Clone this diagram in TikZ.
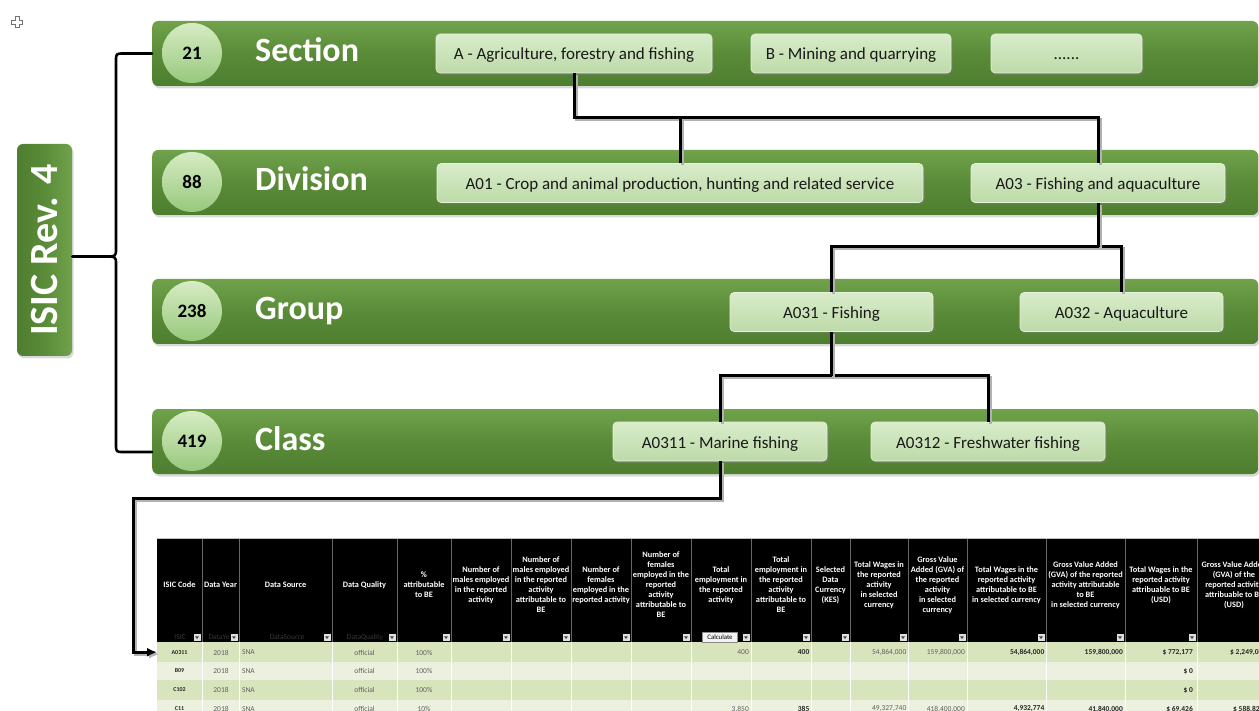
\documentclass[tikz,border=0pt]{standalone}
\usepackage{fontspec}
\setmainfont{Carlito}
\usetikzlibrary{shadows,arrows.meta,calc}
\definecolor{barTop}{HTML}{70A24C}
\definecolor{barMid}{HTML}{5A8B38}
\definecolor{barBot}{HTML}{4E7E2F}
\definecolor{cirTop}{HTML}{D6ECC4}
\definecolor{cirBot}{HTML}{98C87C}
\definecolor{cTop}{HTML}{D8ECCA}
\definecolor{cBot}{HTML}{BDDAA8}
\definecolor{rowA}{HTML}{D8E4BC}
\definecolor{rowB}{HTML}{EBF1DE}
\definecolor{cellTxt}{HTML}{606060}
\begin{document}
\begin{tikzpicture}[x=1pt,y=-1pt,
  bar/.style={rounded corners=6pt, minimum width=1106pt, minimum height=65pt, inner sep=0pt, anchor=west,
    top color=barTop, bottom color=barBot, middle color=barMid,
    drop shadow={opacity=0.3, shadow xshift=1.5pt, shadow yshift=-2.5pt}},
  numcirc/.style={circle, minimum size=60pt, inner sep=0pt, top color=cirTop, bottom color=cirBot,
    font=\fontsize{19}{22}\selectfont\bfseries, text=black},
  lvl/.style={anchor=west, inner sep=0pt, text=white, text height=22pt, text depth=0pt,
    font=\fontsize{34}{40}\selectfont\bfseries},
  cbox/.style={rounded corners=4pt, minimum height=39pt, inner sep=0pt, top color=cTop, bottom color=cBot,
    draw=cTop!70!white, line width=0.6pt, font=\fontsize{17}{20}\selectfont, text=black!90,
    text height=13pt, text depth=0pt,
    drop shadow={opacity=0.45, shadow xshift=1.5pt, shadow yshift=-2pt}},
  conn/.style={line width=3pt, black, line join=miter,
    preaction={draw=black!30, line width=3pt, transform canvas={shift={(2pt,-2pt)}}}},
  brace/.style={line width=2.6pt, black, line join=round, line cap=round},
  hd/.style={inner sep=0pt, align=center, text=white, font=\fontsize{8.3}{10}\selectfont\bfseries},
  faint/.style={inner sep=0pt, text=black!78, font=\fontsize{7.5}{9}\selectfont},
  cell/.style={inner sep=0pt, text=cellTxt, font=\fontsize{7.5}{9}\selectfont},
  cellb/.style={inner sep=0pt, text=black!85, font=\fontsize{7.5}{9}\selectfont\bfseries},
  code/.style={inner sep=0pt, text=black!85, font=\fontsize{6}{7}\selectfont\bfseries},
  rw/.style={anchor=north west, minimum width=1118pt, inner sep=0pt, draw=none}
]
\useasboundingbox (0,0) rectangle (1259,711);
\clip (0,0) rectangle (1259,711);

% move icon
\draw[black!55, line width=0.6pt, fill=white] (15,16.5) -- (19,16.5) -- (19,20) -- (22.5,20) -- (22.5,24) -- (19,24) -- (19,27.5) -- (15,27.5) -- (15,24) -- (11.5,24) -- (11.5,20) -- (15,20) -- cycle;

% level bars
\node[bar] (secbar) at (152,53.5) {};
\node[bar] (divbar) at (152,182.5) {};
\node[bar] (grpbar) at (152,311.5) {};
\node[bar] (clsbar) at (152,441.5) {};

\node[numcirc] (n21) at (192,53) {21};
\node[numcirc] (n88) at (192,182) {88};
\node[numcirc] (n238) at (192,311) {238};
\node[numcirc] (n419) at (192,441) {419};

\node[lvl] (lsec) at (255,51) {Section};
\node[lvl] (ldiv) at (255,180) {Division};
\node[lvl] (lgrp) at (255,309) {Group};
\node[lvl] (lcls) at (255,439) {Class};

% ISIC box
\node[rotate=90, rounded corners=6pt, minimum width=212pt, minimum height=55pt, inner sep=0pt,
  left color=barBot, right color=barTop, middle color=barMid, text=white,
  font=\fontsize{40}{46}\selectfont\bfseries,
  drop shadow={opacity=0.3, shadow xshift=1.5pt, shadow yshift=-2.5pt}] (isic) at (44.5,250) {ISIC Rev. 4};

% brace
\coordinate (tip) at (104,256.5);
\draw[brace] (secbar.west) -- (124,53.5) .. controls (116,53.5) .. (116,61.5) -- (116,248.5) .. controls (116,256.5) .. (tip) -- (isic.south |- tip);
\draw[brace] (tip) .. controls (116,256.5) .. (116,264.5) -- (116,444) .. controls (116,452) .. (124,452) -- (clsbar.west |- 0,452);

% child boxes
\node[cbox, minimum width=276pt] (A) at (574,53.5) {A - Agriculture, forestry and fishing};
\node[cbox, minimum width=200pt] (B) at (851,53.5) {B - Mining and quarrying};
\node[cbox, minimum width=151pt] (dots) at (1066.5,53.5) {......};
\node[cbox, minimum width=486pt] (A01) at (680,183) {A01 - Crop and animal production, hunting and related service};
\node[cbox, minimum width=254pt] (A03) at (1098,183) {A03 - Fishing and aquaculture};
\node[cbox, minimum width=203pt] (A031) at (831.5,312) {A031 - Fishing};
\node[cbox, minimum width=203pt] (A032) at (1121.5,312) {A032 - Aquaculture};
\node[cbox, minimum width=214pt] (A0311) at (720,441.5) {A0311 - Marine fishing};
\node[cbox, minimum width=234pt] (A0312) at (988,441.5) {A0312 - Freshwater fishing};

% table
\node[rw, fill=black, minimum height=103pt] (hdr) at (157,539) {};
\node[rw, fill=rowA, minimum height=20pt] (row1) at (157,642) {};
\node[rw, fill=rowB, minimum height=18pt] (row2) at (157,662) {};
\node[rw, fill=rowA, minimum height=20pt] (row3) at (157,680) {};
\node[rw, fill=rowB, minimum height=20pt] (row4) at (157,700) {};
\draw[black!25, line width=0.6pt] (157,538.7) -- (1259,538.7);

\foreach \c in {202,239,332,397,451,511,571,631,691,751,811,850,908,967,1046,1125,1197}{
  \draw[black!60, line width=0.5pt] (\c,539) -- (\c,642);
  \draw[white, line width=0.7pt] (\c,642) -- (\c,711);
  \fill[black!12] (\c-8.5,634) rectangle (\c-1.5,641);
  \fill[black!75] (\c-7,636.3) -- (\c-3,636.3) -- (\c-5,639) -- cycle;
}

% header texts
\node[hd] (h1) at (179.5,585) {ISIC Code};
\node[hd] (h2) at (220.5,585) {Data Year};
\node[hd] (h3) at (285.5,585) {Data Source};
\node[hd] (h4) at (364.5,585) {Data Quality};
\node[hd] (h5) at (424,585) {\%\\attributable\\to BE};
\node[hd] (h6) at (481,585) {Number of\\males employed\\in the reported\\activity};
\node[hd] (h7) at (541,585) {Number of\\males employed\\in the reported\\activity\\attributable to\\BE};
\node[hd] (h8) at (601,585) {Number of\\females\\employed in the\\reported activity};
\node[hd] (h9) at (661,585) {Number of\\females\\employed in the\\reported\\activity\\attributable to\\BE};
\node[hd] (h10) at (721,585) {Total\\employment in\\the reported\\activity};
\node[hd] (h11) at (781,585) {Total\\employment in\\the reported\\activity\\attributable to\\BE};
\node[hd] (h12) at (830.5,585) {Selected\\Data\\Currency\\(KES)};
\node[hd] (h13) at (879,585) {Total Wages in\\the reported\\activity\\in selected\\currency};
\node[hd] (h14) at (937.5,585) {Gross Value\\Added (GVA) of\\the reported\\activity\\in selected\\currency};
\node[hd] (h15) at (1006.5,585) {Total Wages in the\\reported activity\\attributable to BE\\in selected currency};
\node[hd] (h16) at (1085.5,585) {Gross Value Added\\(GVA) of the reported\\activity attributable\\to BE\\in selected currency};
\node[hd] (h17) at (1161,585) {Total Wages in the\\reported activity\\attribuable to BE\\(USD)};
\node[hd] (h18) at (1234,585) {Gross Value Added\\(GVA) of the\\reported activity\\attribuable to BE\\(USD)};

% faint filter labels
\node[faint] (f1) at (180,637.5) {ISIC};
\node[faint] (f2) at (219,637.5) {DataYe};
\node[faint] (f3) at (287,637.5) {DataSource};
\node[faint] (f4) at (365,637.5) {DataQuality};

% calculate button
\node[draw=black!45, fill=black!5, line width=0.4pt, minimum width=35pt, minimum height=9.5pt, inner sep=0pt,
  font=\fontsize{6.8}{8}\selectfont, text=black] (calc) at (720,637) {Calculate};

% row 1
\node[code] (r1c1) at (179.5,652.5) {A0311};
\node[cell] (r1c2) at (221,652.5) {2018};
\node[cell, anchor=west] (r1c3) at (242,652.5) {SNA};
\node[cell] (r1c4) at (364.5,652.5) {official};
\node[cell] (r1c5) at (424,652.5) {100\%};
\node[cell, anchor=east] (r1c10) at (749,652.5) {400};
\node[cellb, anchor=east] (r1c11) at (809.5,652.5) {400};
\node[cell, anchor=east] (r1c13) at (906.5,652.5) {54,864,000};
\node[cell, anchor=east] (r1c14) at (965,652.5) {159,800,000};
\node[cellb, anchor=east] (r1c15) at (1044.5,652.5) {54,864,000};
\node[cellb, anchor=east] (r1c16) at (1123,652.5) {159,800,000};
\node[cellb, anchor=east] (r1c17) at (1193,652.5) {\$ 772,177};
\node[cellb, anchor=west] (r1c18) at (1230,652.5) {\$ 2,249,081};
% row 2
\node[code] (r2c1) at (179.5,671) {B09};
\node[cell] (r2c2) at (221,671) {2018};
\node[cell, anchor=west] (r2c3) at (242,671) {SNA};
\node[cell] (r2c4) at (364.5,671) {official};
\node[cell] (r2c5) at (424,671) {100\%};
\node[cellb, anchor=east] (r2c17) at (1193,671) {\$ 0};
% row 3
\node[code] (r3c1) at (179.5,690) {C102};
\node[cell] (r3c2) at (221,690) {2018};
\node[cell, anchor=west] (r3c3) at (242,690) {SNA};
\node[cell] (r3c4) at (364.5,690) {official};
\node[cell] (r3c5) at (424,690) {100\%};
\node[cellb, anchor=east] (r3c17) at (1193,690) {\$ 0};
% row 4
\node[code] (r4c1) at (179.5,709) {C11};
\node[cell] (r4c2) at (221,709) {2018};
\node[cell, anchor=west] (r4c3) at (242,709) {SNA};
\node[cell] (r4c4) at (364.5,709) {official};
\node[cell] (r4c5) at (424,709) {10\%};
\node[cell, anchor=east] (r4c10) at (749,709) {3,850};
\node[cellb, anchor=east] (r4c11) at (809.5,709) {385};
\node[cell, anchor=east] (r4c13) at (906.5,709) {49,327,740};
\node[cell, anchor=east] (r4c14) at (965,709) {418,400,000};
\node[cellb, anchor=east] (r4c15) at (1044.5,709) {4,932,774};
\node[cellb, anchor=east] (r4c16) at (1123,709) {41,840,000};
\node[cellb, anchor=east] (r4c17) at (1193,709) {\$ 69,426};
\node[cellb, anchor=west] (r4c18) at (1233,709) {\$ 588,821};

% connectors
\draw[conn] (A.south) |- (A03.north |- 0,118) -- (A03.north);
\draw[conn] (A01.north) -- (A01.north |- 0,118);
\draw[conn] (A031.north) |- (A032.north |- 0,247) -- (A032.north);
\draw[conn] (A03.south) -- (A03.south |- 0,247);
\draw[conn] (A0311.north) |- (A0312.north |- 0,376) -- (A0312.north);
\draw[conn] (A031.south) -- (A031.south |- 0,376);
\coordinate (bend) at (133,498);
\draw[conn, -{Latex[length=10pt,width=9pt]}] (A0311.south) |- (bend) |- (row1.west);
\end{tikzpicture}
\end{document}
